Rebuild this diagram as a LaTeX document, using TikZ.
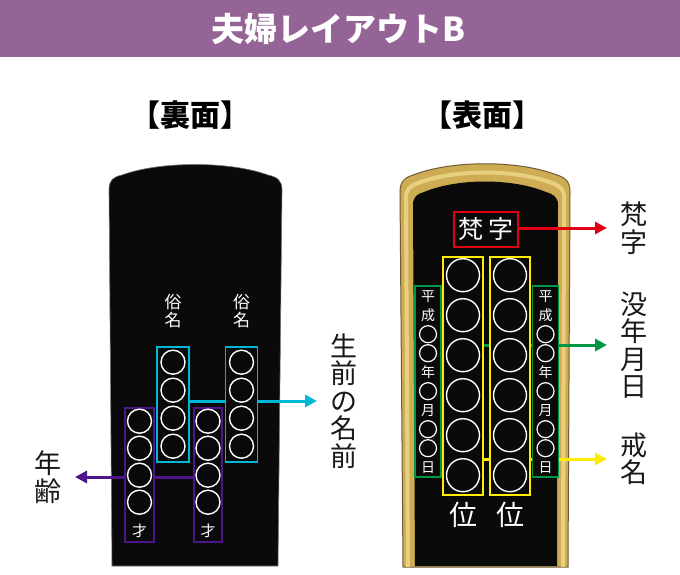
\documentclass[tikz,border=0pt]{standalone}
\usepackage{fontspec}
\newfontfamily\jp{Noto Sans CJK JP}
\usepackage{tikz}
\usetikzlibrary{positioning,arrows.meta,calc,backgrounds}
\pgfdeclarelayer{tablilla}
\pgfsetlayers{tablilla,background,main}
\definecolor{titulo}{RGB}{149,100,150}
\definecolor{cian}{RGB}{0,183,215}
\definecolor{morado}{RGB}{78,20,140}
\definecolor{verde}{RGB}{0,150,70}
\definecolor{amarillo}{RGB}{255,236,0}
\definecolor{rojo}{RGB}{228,0,20}
\definecolor{dorado}{RGB}{206,172,84}
\definecolor{doradoclaro}{RGB}{232,208,128}
\definecolor{doradoosc}{RGB}{110,92,55}
\definecolor{lacado}{RGB}{10,10,10}

\begin{document}
\begin{tikzpicture}[x=1pt, y=-1pt,
  caja/.style={draw, line width=1.6pt, fill=lacado, inner sep=0pt},
  anillo/.style={draw=white, line width=1.4pt},
  letra/.style={text=white, inner sep=0pt, font=\jp\fontsize{#1}{#1}\selectfont},
  etiqueta/.style={font=\jp\fontsize{27}{27.5}\selectfont, align=center,
                   inner sep=0pt, text=black!90},
  encabezado/.style={font=\jp\bfseries\fontsize{30}{30}\selectfont, inner sep=0pt},
  flecha/.style={line width=3pt, -{Triangle[length=12pt,width=12pt]}}]
  \useasboundingbox (0,0) rectangle (680,575);
  % cabecera
  \node[text=white, font=\jp\bfseries\fontsize{33}{33}\selectfont] (titular) at (338,29)
    {夫婦レイアウトB};
  \node[encabezado] (ura) at (190,115) {【裏面】};
  \node[encabezado] (omote) at (482,115) {【表面】};

  % fondo y las dos tablillas
  \begin{pgfonlayer}{tablilla}
    \fill[white] (0,0) rectangle (680,575);
    \fill[titulo] (0,0) rectangle (680,57);
    \fill[lacado, draw=black!55, line width=0.6pt] (112,566) -- (109,190)
      .. controls (109,180) and (113,177) .. (122,175)
      .. controls (160,161) and (230,161) .. (268,175)
      .. controls (277,177) and (282,180) .. (282,190) -- (278,566) -- cycle;
    \fill[dorado, draw=doradoosc, line width=1pt] (403,567) -- (400,192)
      .. controls (400,182) and (404,178) .. (413,175)
      .. controls (452,160) and (518,160) .. (557,175)
      .. controls (566,178) and (570,182) .. (570,192) -- (568,567) -- cycle;
    \draw[doradoclaro, line width=4pt] (408,567) -- (406,198)
      .. controls (406,189) and (410,186) .. (418,183)
      .. controls (455,169) and (515,169) .. (552,183)
      .. controls (560,186) and (564,189) .. (564,198) -- (563,567);
    \fill[lacado] (415,566) -- (413,205)
      .. controls (413,197) and (417,194) .. (424,192)
      .. controls (458,178) and (512,178) .. (546,192)
      .. controls (553,194) and (558,197) .. (558,205) -- (557,566) -- cycle;
  \end{pgfonlayer}

  % reverso: nombre en vida y edad
  \node[caja, draw=cian, minimum width=32, minimum height=115] (cianA) at (173,404.5) {};
  \node[caja, draw=cian, minimum width=32, minimum height=115] (cianB) at (241.5,404.5) {};
  \node[caja, draw=morado, minimum width=29, minimum height=134] (moradoA) at (139.5,475) {};
  \node[caja, draw=morado, minimum width=28, minimum height=134] (moradoB) at (208,475) {};
  \foreach \n in {cianA,cianB} {
    \foreach \k in {0,...,3}
      \draw[anillo] ($(\n.north)+(0,16+28*\k)$) circle[radius=12pt];
    \node[letra=17, align=center, font=\jp\fontsize{17}{18}\selectfont]
      at ($(\n.north)+(0,-35)$) {俗\\名};
  }
  \foreach \n in {moradoA,moradoB} {
    \foreach \k in {0,...,3}
      \draw[anillo] ($(\n.north)+(0,14+27*\k)$) circle[radius=12pt];
    \node[letra=15] at ($(\n.south)+(0,-12)$) {才};
  }

  % anverso: bonji, kaimyo y fecha
  \node[caja, draw=rojo, letra=25, minimum width=64, minimum height=35] (bonji) at (486,229.5)
    {梵\hspace{5pt}字};
  \node[caja, draw=amarillo, minimum width=40, minimum height=238] (kaiA) at (463,376) {};
  \node[caja, draw=amarillo, minimum width=40, minimum height=238] (kaiB) at (510,376) {};
  \node[caja, draw=verde, minimum width=26, minimum height=191] (fechaA) at (428,381.5) {};
  \node[caja, draw=verde, minimum width=26, minimum height=191] (fechaB) at (545.5,381.5) {};
  \foreach \n in {kaiA,kaiB} {
    \foreach \k in {0,...,5}
      \draw[anillo] ($(\n.north)+(0,19+40*\k)$) circle[radius=16.5pt];
    \node[letra=28] at ($(\n.south)+(0,19)$) {位};
  }
  \foreach \n in {fechaA,fechaB} {
    \foreach \k/\c in {0/平,1/成,4/年,6/月,9/日}
      \node[letra=14] at ($(\n.north)+(0,11+19*\k)$) {\c};
    \foreach \k in {2,3,5,7,8}
      \draw[anillo, line width=1.2pt] ($(\n.north)+(0,11+19*\k)$) circle[radius=8.5pt];
  }

  % flechas
  \coordinate (puntaSei) at (317,401);
  \coordinate (puntaEdad) at (75,477);
  \coordinate (puntaBon) at (607,228);
  \coordinate (puntaBotsu) at (607,345);
  \coordinate (puntaKai) at (607,459);
  \begin{scope}[on background layer]
    \draw[flecha, cian] (cianA.east |- puntaSei) -- (puntaSei);
    \draw[flecha, morado] (moradoB.west |- puntaEdad) -- (puntaEdad);
    \draw[flecha, rojo] (bonji.east |- puntaBon) -- (puntaBon);
    \draw[flecha, verde] (fechaA.east |- puntaBotsu) -- (puntaBotsu);
    \draw[flecha, amarillo] (kaiA.east |- puntaKai) -- (puntaKai);
  \end{scope}
  \node[etiqueta, right=13pt of puntaSei] (seizen) {生\\前\\の\\名\\前};
  \node[etiqueta, left=13pt of puntaEdad] (nenrei) {年\\齢};
  \node[etiqueta, right=13pt of puntaBon] (bonjiTxt) {梵\\字};
  \node[etiqueta, right=13pt of puntaBotsu] (botsu) {没\\年\\月\\日};
  \node[etiqueta, right=13pt of puntaKai] (kaimyo) {戒\\名};
\end{tikzpicture}
\end{document}
